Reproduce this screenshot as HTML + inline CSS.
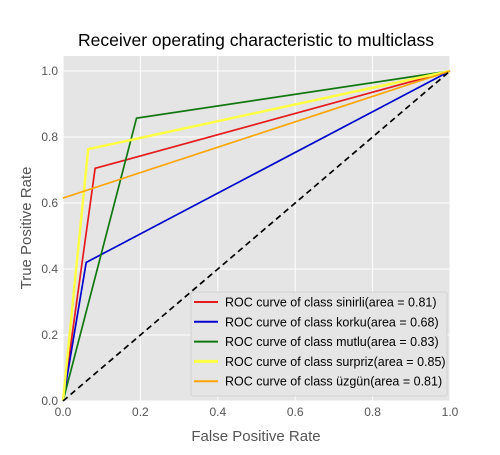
<!DOCTYPE html>
<html><head><meta charset="utf-8"><style>
body{margin:0;background:#fff;}
svg text{font-family:"Liberation Sans",sans-serif;}
</style></head><body>
<svg width="500" height="450">
<text x="256" y="46" font-size="17.5" text-anchor="middle" fill="#000">Receiver operating characteristic to multiclass</text>
<rect x="63" y="56" width="387" height="345" fill="#e5e5e5"/>
<g id="grid"></g>
<g id="ticks"></g>
<g id="series"></g>
<text x="256" y="441" font-size="15" text-anchor="middle" fill="#555">False Positive Rate</text>
<text transform="translate(31,228) rotate(-90)" font-size="15" text-anchor="middle" fill="#555">True Positive Rate</text>
<g id="legend"></g>
</svg>
<script>
const tickVals=[0,0.2,0.4,0.6,0.8,1.0];
const tickLabels=["0.0","0.2","0.4","0.6","0.8","1.0"];
const classNames=["sinirli","korku","mutlu","surpriz","üzgün"];
const areas=["0.81","0.68","0.83","0.85","0.81"];
const colors=["#e41a1c","#0000cc","#117711","#ffff44","#ffa500"];
const fprSinirli=[0,0.083,1];
const tprSinirli=[0,0.705,1];
const fprKorku=[0,0.06,1];
const tprKorku=[0,0.42,1];
const fprMutlu=[0,0.19,1];
const tprMutlu=[0,0.857,1];
const fprSurpriz=[0,0.065,1];
const tprSurpriz=[0,0.763,1];
const fprUzgun=[0,1];
const tprUzgun=[0.615,1];
const fprs=[fprSinirli,fprKorku,fprMutlu,fprSurpriz,fprUzgun];
const tprs=[tprSinirli,tprKorku,tprMutlu,tprSurpriz,tprUzgun];
const NS="http://www.w3.org/2000/svg";
const X=v=>63+v*387, Y=v=>401-v*330;
function mk(t,a,p){const e=document.createElementNS(NS,t);for(const k in a)e.setAttribute(k,a[k]);p.appendChild(e);return e;}
const grid=document.getElementById('grid'),ticks=document.getElementById('ticks');
tickVals.forEach((v,i)=>{
 let g=mk('line',{x1:X(v),x2:X(v),y1:56,y2:401,stroke:'#fff','stroke-width':1},grid);
 
 
 g=mk('line',{x1:63,x2:450,y1:Y(v),y2:Y(v),stroke:'#fff','stroke-width':1},grid);
 
 
 let t=mk('text',{x:X(v),y:416,'font-size':12,'text-anchor':'middle',fill:'#555'},ticks);t.textContent=tickLabels[i];
 
 
 t=mk('text',{x:58,y:Y(v)+4,'font-size':12,'text-anchor':'end',fill:'#555'},ticks);t.textContent=tickLabels[i];
 
 
});
const ser=document.getElementById('series');
fprs.forEach((f,i)=>{
 const pts=f.map((x,j)=>X(x)+','+Y(tprs[i][j])).join(' ');
 const p=mk('polyline',{points:pts,fill:'none',stroke:colors[i],'stroke-width':i==3?2.5:1.7},ser);
 
 
});
const d=mk('line',{x1:X(0),y1:Y(0),x2:X(1),y2:Y(1),stroke:'#000','stroke-width':1.7,'stroke-dasharray':'6,4'},ser);


const lg=document.getElementById('legend');
const box=mk('rect',{x:191,y:292,width:256,height:104,fill:'#e5e5e5',stroke:'#ccc','stroke-width':0.8,rx:2},lg);


classNames.forEach((n,i)=>{
 const y=302+i*19.8;
 const l=mk('line',{x1:194,x2:218,y1:y,y2:y,stroke:colors[i],'stroke-width':i==3?3:2},lg);
 
 
 const t=mk('text',{x:225,y:y+4.5,'font-size':12.5,fill:'#000'},lg);
 t.textContent='ROC curve of class '+n+'(area = '+areas[i]+')';
 
 
});
</script>
</body></html>
